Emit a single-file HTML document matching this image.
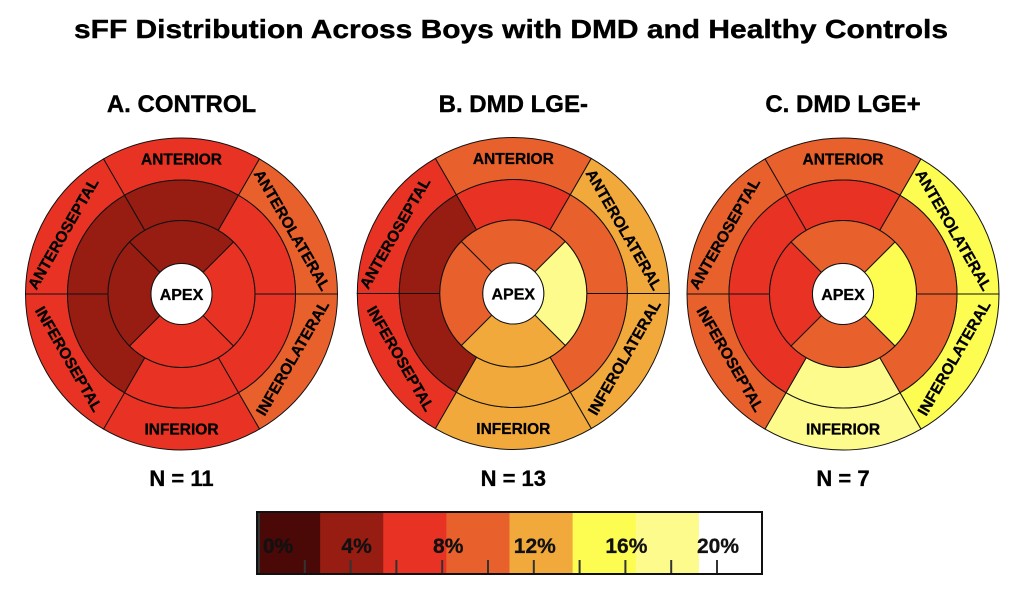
<!DOCTYPE html>
<html><head><meta charset="utf-8"><style>
html,body{margin:0;padding:0;background:#fff;}
svg{display:block;font-family:"Liberation Sans",Arial,sans-serif;font-weight:bold;}
</style></head><body>
<svg id="c" width="1023" height="597" viewBox="0 0 1023 597">
<text x="511" y="38" font-size="26" text-anchor="middle" textLength="874" lengthAdjust="spacingAndGlyphs" stroke="#000" stroke-width="0.4">sFF Distribution Across Boys with DMD and Healthy Controls</text>
</svg>
<script>
// sFF values (%) per segment
const panelTitles = ["A. CONTROL", "B. DMD LGE-", "C. DMD LGE+"];
const panelN = ["N = 11", "N = 13", "N = 7"];
// basal order: anterior, anterolateral, inferolateral, inferior, inferoseptal, anteroseptal
const basalA = [7, 9.5, 9.5, 7, 7, 7];
const midA = [4, 7, 7, 7, 4, 4];
const apicalA = [4, 7, 7, 4]; // anterior, lateral, inferior, septal
const basalB = [9.5, 12.5, 12.5, 12.5, 7, 7];
const midB = [7, 9.5, 9.5, 12.5, 4, 4];
const apicalB = [9.5, 18, 12.5, 9.5];
const basalC = [9.5, 15, 15, 18, 9.5, 9.5];
const midC = [7, 9.5, 9.5, 18, 7, 7];
const apicalC = [9.5, 15, 9.5, 7];
const cbColors = ["#4a0806","#971c12","#e83324","#e8612c","#f2a93c","#fdfc50","#fdfb8c","#ffffff"];
const cbTicks = [0,2,4,6,8,10,12,14,16,18,20];
const cbLabels = ["0%","4%","8%","12%","16%","20%"];
const cbLabelVals = [0,4,8,12,16,20];

const NS="http://www.w3.org/2000/svg";
const svg=document.getElementById('c');
const centers=[[181.5,294],[513.3,293.5],[843,294]];
const R=[156,114,73.5,30.5];
const binW=2.76;
function colorOf(v){let k=Math.floor((v+0.09)/binW);k=Math.max(0,Math.min(7,k));return cbColors[k];}
function mk(tag,attrs,parent){const e=document.createElementNS(NS,tag);for(const k in attrs)e.setAttribute(k,attrs[k]);(parent||svg).appendChild(e);return e;}
function pt(cx,cy,r,a){const t=a*Math.PI/180;return [cx+r*Math.cos(t),cy+r*Math.sin(t)];}
function seg(cx,cy,r0,r1,a0,a1){const p0=pt(cx,cy,r1,a0),p1=pt(cx,cy,r1,a1),p2=pt(cx,cy,r0,a1),p3=pt(cx,cy,r0,a0);const lg=(a1-a0)>180?1:0;
return `M${p0[0]},${p0[1]}A${r1},${r1} 0 ${lg} 1 ${p1[0]},${p1[1]}L${p2[0]},${p2[1]}A${r0},${r0} 0 ${lg} 0 ${p3[0]},${p3[1]}Z`;}
const data=[[basalA,midA,apicalA],[basalB,midB,apicalB],[basalC,midC,apicalC]];
const segNames=["anterior","anterolateral","inferolateral","inferior","inferoseptal","anteroseptal"];
const apNames=["anterior","lateral","inferior","septal"];
data.forEach((d,pi)=>{
  const [cx,cy]=centers[pi];
  const g=mk('g',{});
  
  
  const ttl=mk('text',{x:cx,y:112,'font-size':24,'text-anchor':'middle',stroke:'#000','stroke-width':0.4},g);ttl.textContent=panelTitles[pi];
  
  
  const rings=[[R[1],R[0]],[R[2],R[1]]];
  [0,1].forEach(ri=>{
    d[ri].forEach((v,i)=>{
      const a0=-120+60*i;
      const p=mk('path',{d:seg(cx,cy,rings[ri][0],rings[ri][1],a0,a0+60),fill:colorOf(v),stroke:'#111','stroke-width':1},g);
      
      
    });
  });
  d[2].forEach((v,i)=>{
    const a0=-135+90*i;
    const p=mk('path',{d:seg(cx,cy,R[3],R[2],a0,a0+90),fill:colorOf(v),stroke:'#111','stroke-width':1},g);
    
    
  });
  const ap=mk('circle',{cx:cx,cy:cy,r:R[3],fill:'#fff',stroke:'#111','stroke-width':1},g);
  
  
  const apt=mk('text',{x:cx,y:cy+6,'font-size':16,'text-anchor':'middle',stroke:'#000','stroke-width':0.3},g);apt.textContent='APEX';
  
  
  const labs=[["ANTERIOR",-90,0,135],["ANTEROLATERAL",-30,60,128],["INFEROLATERAL",30,-60,128],["INFERIOR",90,0,135],["INFEROSEPTAL",150,60,130],["ANTEROSEPTAL",-153,-60,133]];
  labs.forEach(l=>{
    const p=pt(cx,cy,l[3],l[1]);
    const t=mk('text',{x:0,y:5.5,'font-size':15.5,'text-anchor':'middle',stroke:'#000','stroke-width':0.3,transform:`translate(${p[0]},${p[1]}) rotate(${l[2]})`},g);
    t.textContent=l[0];
    
    
  });
  const nt=mk('text',{x:cx,y:486,'font-size':22,'text-anchor':'middle',stroke:'#000','stroke-width':0.3},g);nt.textContent=panelN[pi];
  
  
});
// colorbar
const cbX0=257,cbX1=762,cbY0=512,cbY1=574;
const x0pct=259,pxPer=45.8;
function xs(v){return x0pct+v*pxPer/2;}
const cb=mk('g',{});


const bw=(cbX1-cbX0)/cbColors.length;
cbColors.forEach((c,i)=>{
  const r=mk('rect',{x:cbX0+i*bw,y:cbY0,width:bw+0.5,height:cbY1-cbY0,fill:c},cb);
  
  
});
cbTicks.forEach(v=>{
  const l=mk('line',{x1:xs(v),x2:xs(v),y1:(v==0?cbY0:560),y2:cbY1,stroke:'#333','stroke-width':2},cb);
  
  
});
cbLabels.forEach((s,i)=>{
  const v=cbLabelVals[i];
  const off = v==0 ? 19 : (v<10 ? 6 : 1);
  const t=mk('text',{x:xs(v)+off,y:553,'font-size':21,'text-anchor':'middle',fill:'#111',stroke:'#111','stroke-width':0.3},cb);
  t.textContent=s;
  
  
});
const fr=mk('rect',{x:cbX0,y:cbY0,width:cbX1-cbX0,height:cbY1-cbY0,fill:'none',stroke:'#111','stroke-width':2},cb);


</script>
</body></html>
